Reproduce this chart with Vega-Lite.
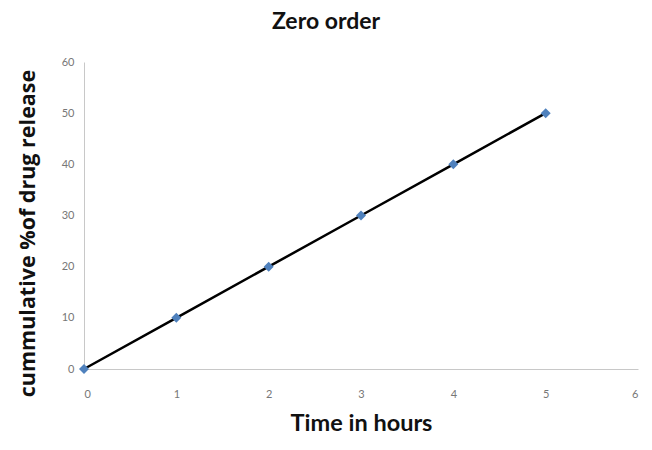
{
  "$schema": "https://vega.github.io/schema/vega-lite/v6.json",
  "autosize": "none",
  "width": 554,
  "height": 307,
  "padding": {"left": 84, "top": 62, "right": 14, "bottom": 81},
  "background": "white",
  "title": {"text": "Zero order", "font": "Lato", "fontSize": 23, "fontWeight": "bold", "color": "#111", "anchor": "middle", "dx": -35, "offset": 22},
  "data": {"values": [
    {"t": 0, "r": 0},
    {"t": 1, "r": 10},
    {"t": 2, "r": 20},
    {"t": 3, "r": 30},
    {"t": 4, "r": 40},
    {"t": 5, "r": 50}
  ]},
  "config": {"view": {"stroke": null}},
  "encoding": {
    "x": {"field": "t", "type": "quantitative", "scale": {"domain": [0, 6], "nice": false},
      "axis": {"title": "Time in hours", "titleFont": "Lato", "titleFontSize": 23.5, "titleFontWeight": "bold", "titleColor": "#111", "titlePadding": 12,
        "values": [0,1,2,3,4,5,6], "grid": false, "ticks": false, "domainColor": "#c8c8c8", "labelColor": "#777", "labelFont": "Lato", "labelFontSize": 11, "labelPadding": 19}},
    "y": {"field": "r", "type": "quantitative", "scale": {"domain": [0, 60], "nice": false},
      "axis": {"title": "cummulative %of drug release", "titleFont": "Open Sans", "titleFontSize": 21.5, "titleFontWeight": "bold", "titleColor": "#111",
        "titleX": -56, "titleY": 171, "titleBaseline": "middle", "titleAngle": 270,
        "values": [0,10,20,30,40,50,60], "grid": false, "ticks": false, "domainColor": "#c8c8c8", "labelColor": "#777", "labelFont": "Lato", "labelFontSize": 11, "labelPadding": 10}}
  },
  "layer": [
    {"mark": {"type": "line", "color": "black", "strokeWidth": 2.5}},
    {"mark": {"type": "point", "shape": "diamond", "filled": true, "color": "#4F81BD", "size": 100, "opacity": 1}}
  ]
}
